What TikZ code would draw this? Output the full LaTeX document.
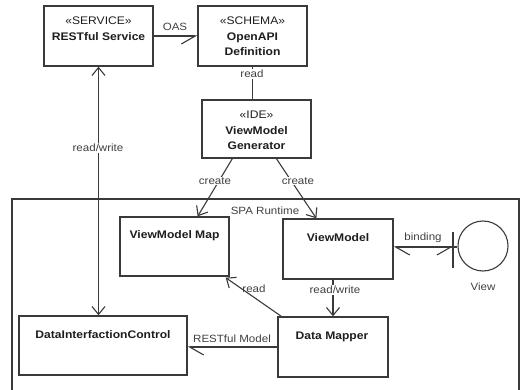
\documentclass[tikz,border=0pt]{standalone}
\usepackage{fontspec}
\setmainfont{Liberation Sans}[FakeStretch=1.1]
\usetikzlibrary{arrows.meta,calc}
\definecolor{ln}{HTML}{3A3A3A}
\definecolor{tx}{HTML}{1E1E1E}
\tikzset{
  box/.style={draw=ln, line width=1.3pt, fill=white, inner sep=0pt},
  txt/.style={font=\fontsize{11}{15.5}\selectfont, text=tx, inner sep=0pt, align=center},
  lbl/.style={font=\fontsize{10.5}{12}\selectfont, text=tx!85, inner sep=1pt},
  wlbl/.style={lbl, fill=white},
  conn/.style={draw=ln, line width=1.1pt},
  oarr/.style={-{Straight Barb[length=8pt,width=13pt,line width=1.1pt]}},
  harpE/.style={-{Straight Barb[length=14pt,width=16pt,line width=1.1pt,harpoon,swap]}},
  harpW/.style={-{Straight Barb[length=14pt,width=16pt,line width=1.1pt,harpoon]}},
}
\begin{document}
\begin{tikzpicture}[x=1pt,y=-1pt]
\useasboundingbox (0,0) rectangle (521,390);
\clip (0,0) rectangle (521,390);
% frame
\draw[draw=ln, line width=1.3pt] (12,199) rectangle (519,420);
\node[lbl] (spa) at (265,211) {SPA Runtime};
% boxes
\node[box, minimum width=109pt, minimum height=60pt] (rs) at (98.5,36) {};
\node[txt] (rsT) at (98.5,28.5) {«SERVICE»\\\textbf{RESTful Service}};
\node[box, minimum width=109pt, minimum height=60pt] (oa) at (252.5,36) {};
\node[txt] (oaT) at (252.5,36.5) {«SCHEMA»\\\textbf{OpenAPI}\\\textbf{Definition}};
\node[box, minimum width=109pt, minimum height=58pt] (gen) at (256.5,129) {};
\node[txt] (genT) at (256.5,130.5) {«IDE»\\\textbf{ViewModel}\\\textbf{Generator}};
\node[box, minimum width=109pt, minimum height=59pt] (vmm) at (174.5,246.5) {};
\node[txt] (vmmT) at (174.5,235.5) {\textbf{ViewModel Map}};
\node[box, minimum width=110pt, minimum height=60pt] (vm) at (338,249) {};
\node[txt] (vmT) at (338,238) {\textbf{ViewModel}};
\node[box, minimum width=168pt, minimum height=59pt] (dic) at (103,345.5) {};
\node[txt] (dicT) at (103,335) {\textbf{DataInterfactionControl}};
\node[box, minimum width=110pt, minimum height=60pt] (dm) at (333,347) {};
\node[txt] (dmT) at (332,337) {\textbf{Data Mapper}};
\node[draw=ln, line width=1.1pt, circle, minimum size=50pt, inner sep=0pt] (view) at (483,246) {};
\node[lbl] (viewT) at (483,287) {View};
\coordinate (tick) at (453,247);
\draw[conn] ($(tick)+(0,-15)$) -- ($(tick)+(0,21)$);
% connectors
\draw[conn, harpE] (rs.east) -- (oa.west);
\node[lbl] (oas) at (175,27) {OAS};
\draw[conn] (oa.south) -- (oa.south |- gen.north);
\node[wlbl] (rd1) at (252,74) {read};
\draw[conn, {Straight Barb[length=8pt,width=13pt,line width=1.1pt]}-{Straight Barb[length=8pt,width=13pt,line width=1.1pt]}] (rs.south) -- (rs.south |- dic.north);
\node[wlbl] (rw1) at (98,148) {read/write};
\coordinate (c1s) at ($(gen.south west)+(31,0)$);
\coordinate (c1e) at ($(vmm.north east)+(-32,0)$);
\draw[conn, oarr] (c1s) -- (c1e);
\node[wlbl] (cr1) at (215,181) {create};
\coordinate (c2s) at ($(gen.south west)+(75,0)$);
\coordinate (c2e) at ($(vm.north west)+(34,0)$);
\draw[conn, oarr] (c2s) -- (c2e);
\node[wlbl] (cr2) at (298,181) {create};
\draw[conn, harpW] (tick) -- (vm.east |- tick);
\draw[conn, harpE] ($(tick)+(-20,0)$) -- (tick);
\draw[conn] (tick) -- (view.west |- tick);
\node[lbl] (bind) at (423,238) {binding};
\draw[conn, oarr] (dm.north |- vm.south) -- (dm.north);
\node[wlbl] (rw2) at (335,290) {read/write};
\coordinate (r2s) at ($(dm.north west)+(4,0)$);
\coordinate (r2e) at ($(vmm.south east)+(-4,1)$);
\draw[conn, oarr] (r2s) -- (r2e);
\node[lbl] (rd2) at (254,289) {read};
\draw[conn, harpW] (dm.west) -- (dm.west -| dic.east);
\node[lbl] (rm) at (232,339) {RESTful Model};
\end{tikzpicture}
\end{document}
